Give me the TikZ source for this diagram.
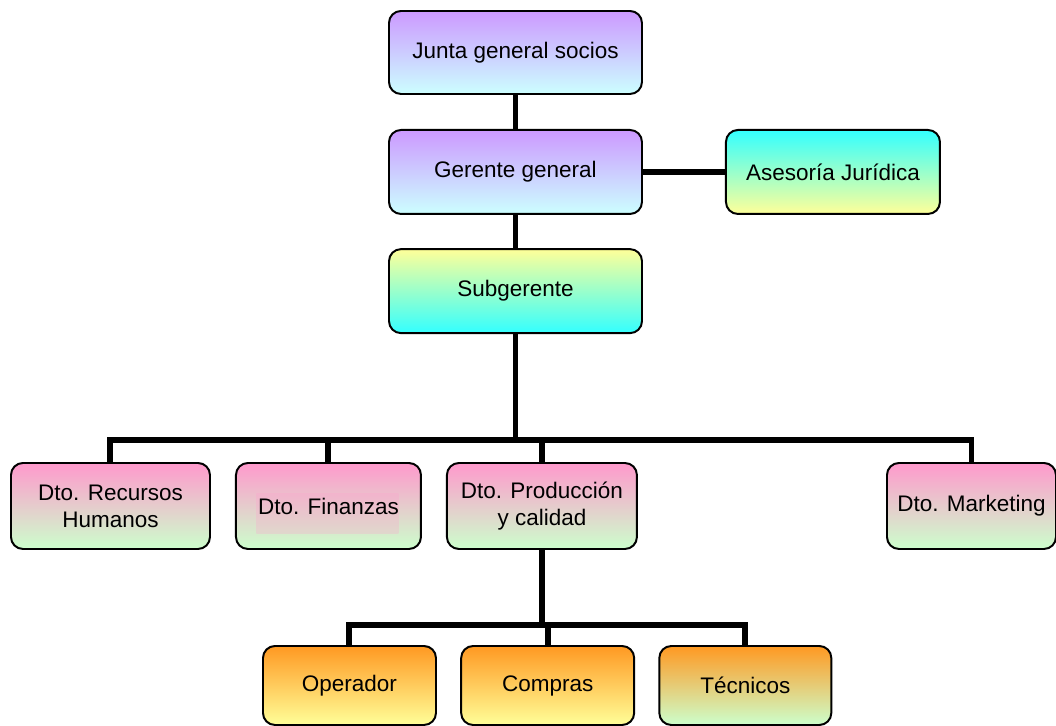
\documentclass[tikz,border=0pt]{standalone}
\usepackage{fontspec}
\setmainfont{Liberation Sans}
\usetikzlibrary{positioning}

\definecolor{lila}{HTML}{CC99FF}
\definecolor{celeste}{HTML}{CCFFFF}
\definecolor{cian}{HTML}{33FFFF}
\definecolor{amarillo}{HTML}{FFFF99}
\definecolor{rosa}{HTML}{FF99CC}
\definecolor{verde}{HTML}{CCFFCC}
\definecolor{naranja}{HTML}{FF9922}

\begin{document}
\begin{tikzpicture}[
    node distance=0.83cm and 0.6cm,
    box/.style={rectangle, draw=black, line width=1.4pt, rounded corners=0.3cm,
                text centered, align=center, font=\fontsize{16}{19.2}\selectfont,
                minimum height=2.1cm},
    top/.style={box, minimum width=6.325cm, top color=lila, bottom color=celeste},
    sub/.style={box, minimum width=6.325cm, top color=amarillo, bottom color=cian},
    ases/.style={box, minimum width=5.35cm, top color=cian, bottom color=amarillo},
    dept/.style={box, minimum height=2.15cm, top color=rosa, bottom color=verde},
    area/.style={box, minimum width=4.325cm, minimum height=1.975cm,
                 top color=naranja, bottom color=amarillo},
    link/.style={line width=4.25pt},
]
\useasboundingbox (0,0) rectangle (26.4,-18.15);

% ── Direction ──
\node[top, minimum height=2.075cm, anchor=north west] (junta) at (9.7,-0.25) {Junta general socios};
\node[top, below=0.85cm of junta] (gerente) {Gerente general};
\node[ases, right=2.05cm of gerente] (asesoria) {Asesoría Jurídica};
\node[sub, below=of gerente] (subger) {Subgerente};

\draw[link] (junta) -- (gerente);
\draw[link] (gerente) -- (subger);
\draw[link] (gerente) -- (asesoria);

% ── Departments ──
\node[dept, minimum width=4.975cm, anchor=north west] (rrhh) at (0.25,-11.55) {Dto. Recursos\\ Humanos};
\node[dept, minimum width=4.625cm, right=of rrhh,
      path picture={\shade[sharp corners, top color=rosa, bottom color=rosa!25!verde]
        ([xshift=-1.8cm, yshift=0.3cm]path picture bounding box.center) rectangle
        ([xshift=1.75cm, yshift=-0.7cm]path picture bounding box.center);}] (finanzas) {Dto. Finanzas};
\node[dept, minimum width=4.75cm, right=of finanzas] (produccion) {Dto. Producción\\ y calidad};
\node[dept, minimum width=4.225cm, anchor=north west] (marketing) at (22.15,-11.55) {Dto. Marketing};

\coordinate (bus) at ([yshift=0.55cm]rrhh.north);
\draw[link] (subger.south) -- (subger.south |- bus);
\draw[link] (rrhh.north) -- (bus) -| (marketing.north);
\draw[link] (finanzas.north) -- (finanzas.north |- bus);
\draw[link] (produccion.north) -- (produccion.north |- bus);

% ── Production areas ──
\node[area, anchor=north west] (operador) at (6.55,-16.125) {Operador};
\node[area, right=0.58cm of operador] (compras) {Compras};
\node[area, minimum width=4.3cm, bottom color=verde, right=0.58cm of compras] (tecnicos) {Técnicos};

\coordinate (prodbus) at ([yshift=0.5cm]operador.north);
\draw[link] (produccion.south) -- (produccion.south |- prodbus);
\draw[link] (operador.north) -- (prodbus) -| (tecnicos.north);
\draw[link] (compras.north) -- (compras.north |- prodbus);

\end{tikzpicture}
\end{document}
